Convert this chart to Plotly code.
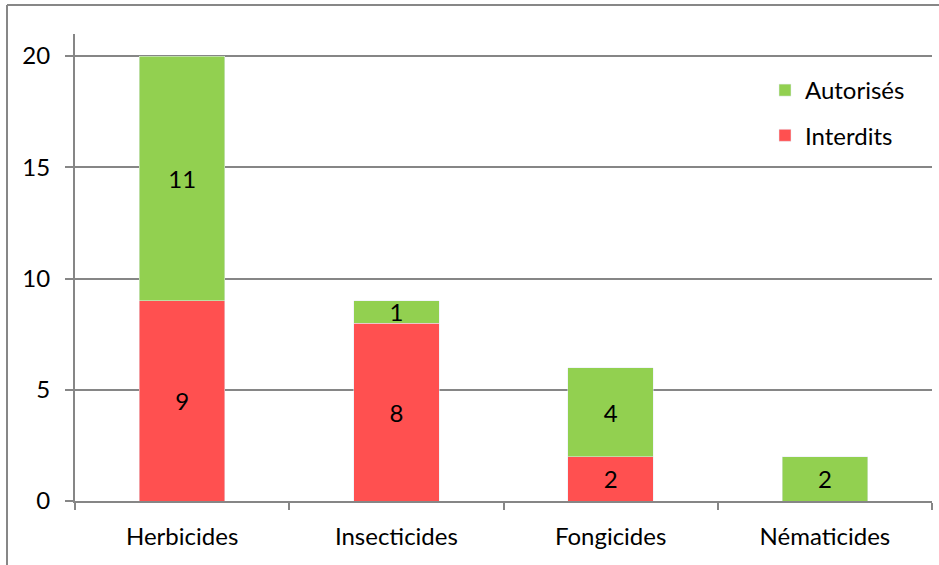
import plotly.graph_objects as go

categories = ["Herbicides", "Insecticides", "Fongicides", "Nématicides"]
interdits = [9, 8, 2, 0]
autorises = [11, 1, 4, 2]
y_ticks = [0, 5, 10, 15, 20]

GREEN = "#92D050"
RED = "#FF5050"
GRAY = "#868686"
FONT = "Lato"
FS = 24

def labels(vals):
    return [str(v) if v else "" for v in vals]

fig = go.Figure()
fig.add_trace(go.Bar(
    x=categories, y=interdits, name="Interdits", marker_color=RED,
    text=labels(interdits), textposition="inside", insidetextanchor="middle",
    constraintext="none", textangle=0,
    textfont=dict(color="black", size=FS, family=FONT),
    legendgroup="b", legendrank=2, hoverinfo="x+y+name"))
fig.add_trace(go.Bar(
    x=categories, y=autorises, name="Autorisés", marker_color=GREEN,
    text=labels(autorises), textposition="inside", insidetextanchor="middle",
    constraintext="none", textangle=0,
    textfont=dict(color="black", size=FS, family=FONT),
    legendgroup="a", legendrank=1, hoverinfo="x+y+name"))

W, H = 939, 565
L, R, T, B = 75, 7, 34, 64
pw, ph = W - L - R, H - T - B

fig.update_layout(
    width=W, height=H,
    margin=dict(l=L, r=R, t=T, b=B, pad=0),
    barmode="stack", bargap=0.6,
    plot_bgcolor="white", paper_bgcolor="white",
    font=dict(family=FONT, size=FS, color="black"),
    showlegend=True,
    legend=dict(x=(765 - L) / pw, y=(H - B - 68) / ph, xanchor="left", yanchor="top",
                traceorder="grouped", tracegroupgap=11,
                font=dict(size=FS, family=FONT), bgcolor="rgba(0,0,0,0)"),
    xaxis=dict(showline=True, linecolor=GRAY, linewidth=2, ticks="outside",
               tickson="boundaries", ticklen=7, tickcolor=GRAY, tickwidth=2,
               showgrid=False, ticklabelstandoff=13,
               tickfont=dict(size=FS, family=FONT)),
    yaxis=dict(range=[0, 20.99], tickvals=y_ticks, showline=True, linecolor=GRAY,
               linewidth=2, ticks="outside", ticklen=8, tickcolor=GRAY, tickwidth=2,
               showgrid=True, gridcolor=GRAY, gridwidth=2, zeroline=False,
               ticklabelstandoff=10, tickfont=dict(size=FS, family=FONT)),
    shapes=[
        dict(type="line", xref="paper", yref="paper",
             x0=(7 - L) / pw, x1=(7 - L) / pw, y0=(H - B - 570) / ph, y1=(H - B - 5) / ph,
             line=dict(color="#878787", width=2)),
        dict(type="line", xref="paper", yref="paper",
             x0=(7 - L) / pw, x1=(945 - L) / pw, y0=(H - B - 5) / ph, y1=(H - B - 5) / ph,
             line=dict(color="#878787", width=2)),
    ],
)

fig.write_html(
    "out.html",
    config={"displayModeBar": False},
    post_script="document.body.style.margin='0';document.body.style.overflow='hidden';",
)
